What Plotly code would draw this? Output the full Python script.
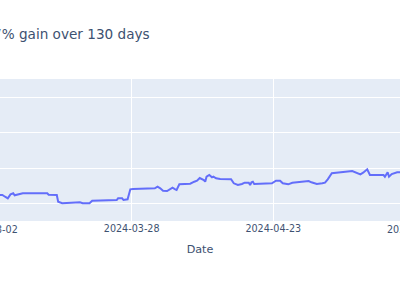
import pandas as pd
import plotly.graph_objects as go

# ---- data ----
timestamps = [
    "2024-03-03 12:00", "2024-03-04 06:00", "2024-03-04 18:00", "2024-03-05 06:00",
    "2024-03-05 18:00", "2024-03-06 06:00", "2024-03-06 12:00", "2024-03-07 00:00",
    "2024-03-07 12:00", "2024-03-08 00:00", "2024-03-12 12:00", "2024-03-12 18:00",
    "2024-03-14 06:00", "2024-03-14 12:00", "2024-03-15 06:00", "2024-03-18 06:00",
    "2024-03-18 12:00", "2024-03-19 00:00", "2024-03-20 06:00", "2024-03-20 18:00",
    "2024-03-22 06:00", "2024-03-25 06:00", "2024-03-25 12:00", "2024-03-26 06:00",
    "2024-03-26 12:00", "2024-03-27 06:00", "2024-03-27 18:00", "2024-03-28 06:00",
    "2024-04-01 06:00", "2024-04-01 18:00", "2024-04-02 06:00", "2024-04-02 18:00",
    "2024-04-03 12:00", "2024-04-04 00:00", "2024-04-04 12:00", "2024-04-05 00:00",
    "2024-04-05 06:00", "2024-04-05 18:00", "2024-04-07 18:00", "2024-04-08 12:00",
    "2024-04-09 00:00", "2024-04-09 12:00", "2024-04-10 06:00", "2024-04-10 12:00",
    "2024-04-10 18:00", "2024-04-11 06:00", "2024-04-11 18:00", "2024-04-12 00:00",
    "2024-04-12 12:00", "2024-04-13 06:00", "2024-04-15 06:00", "2024-04-15 18:00",
    "2024-04-16 12:00", "2024-04-17 06:00", "2024-04-17 18:00", "2024-04-18 12:00",
    "2024-04-18 18:00", "2024-04-19 00:00", "2024-04-19 06:00", "2024-04-19 12:00",
    "2024-04-22 18:00", "2024-04-23 12:00", "2024-04-24 06:00", "2024-04-24 18:00",
    "2024-04-25 18:00", "2024-04-26 12:00", "2024-04-28 00:00", "2024-04-29 12:00",
    "2024-04-30 00:00", "2024-05-01 00:00", "2024-05-02 00:00", "2024-05-02 12:00",
    "2024-05-03 00:00", "2024-05-03 18:00", "2024-05-07 12:00", "2024-05-08 00:00",
    "2024-05-09 00:00", "2024-05-09 12:00", "2024-05-10 06:00", "2024-05-10 18:00",
    "2024-05-13 06:00", "2024-05-13 12:00", "2024-05-14 00:00", "2024-05-14 06:00",
    "2024-05-14 18:00", "2024-05-15 18:00", "2024-05-16 12:00",
]
values = [
    182.41, 182.41, 181.92, 181.47,
    182.60, 182.89, 182.32, 182.49,
    182.69, 182.89, 182.89, 182.49,
    182.41, 180.51, 180.06, 180.14,
    180.34, 180.06, 180.06, 180.79,
    180.85, 180.99, 181.47, 181.47,
    180.99, 181.19, 184.02, 184.10,
    184.30, 184.76, 184.30, 183.62,
    183.54, 184.02, 184.47, 184.02,
    183.82, 185.43, 185.60, 186.17,
    186.45, 187.22, 186.65, 186.17,
    187.59, 188.07, 187.42, 187.59,
    187.13, 186.93, 186.85, 185.72,
    185.24, 185.52, 185.89, 185.89,
    185.24, 186.00, 186.17, 185.52,
    185.72, 186.45, 186.45, 185.72,
    185.43, 185.89, 186.09, 186.37,
    186.00, 185.52, 185.72, 185.89,
    186.85, 188.55, 189.20, 188.83,
    188.26, 188.72, 189.68, 188.07,
    188.07, 187.59, 188.83, 187.59,
    188.35, 188.83, 188.83,
]
tick_dates = ["2024-03-02", "2024-03-28", "2024-04-23", "2024-05-19"]
title_text = "+12.7% gain over 130 days"
x_view = ["2024-03-03 19:40", "2024-05-16 06:30"]
y_view = [175.05, 215.24]
y_grid = [180, 190, 200, 210]

FONT = "DejaVu Sans"
TXT = "#3d5171"

fig = go.Figure(go.Scatter(
    x=pd.to_datetime(timestamps), y=values, mode="lines",
    line=dict(color="#636efa", width=2), showlegend=False,
))

fig.update_layout(
    width=400, height=284,
    margin=dict(l=0, r=0, t=79, b=63, pad=0),
    paper_bgcolor="white", plot_bgcolor="#E5ECF6",
    font=dict(family=FONT, color=TXT, size=9.6),
    title=dict(text=title_text, font=dict(family=FONT, size=13.6, color=TXT),
               xref="container", x=0.374, xanchor="right",
               yref="container", y=1 - 34.5 / 284, yanchor="middle"),
    xaxis=dict(type="date", range=x_view, tickvals=tick_dates, tickformat="%Y-%m-%d",
               showgrid=True, gridcolor="white", gridwidth=1, zeroline=False,
               showline=False, ticks="", automargin=False,
               tickfont=dict(family=FONT, size=9.6, color=TXT),
               title=dict(text="Date", font=dict(family=FONT, size=11.2, color=TXT), standoff=12)),
    yaxis=dict(range=y_view, tickvals=y_grid, showticklabels=False, showgrid=True,
               gridcolor="white", gridwidth=1, zeroline=False, automargin=False, ticks=""),
)

# tick labels of ticks lying just outside the visible window (partially clipped)
r0 = pd.Timestamp(x_view[0])
r1 = pd.Timestamp(x_view[1])
for d in tick_dates:
    t = pd.Timestamp(d)
    if t < r0 or t > r1:
        px = (t - r0) / (r1 - r0)
        fig.add_annotation(text=d, xref="paper", yref="paper", x=px, y=0,
                           xanchor="center", yanchor="top", showarrow=False, yshift=-1,
                           font=dict(family=FONT, size=9.6, color=TXT))

fig.write_html("out.html")
